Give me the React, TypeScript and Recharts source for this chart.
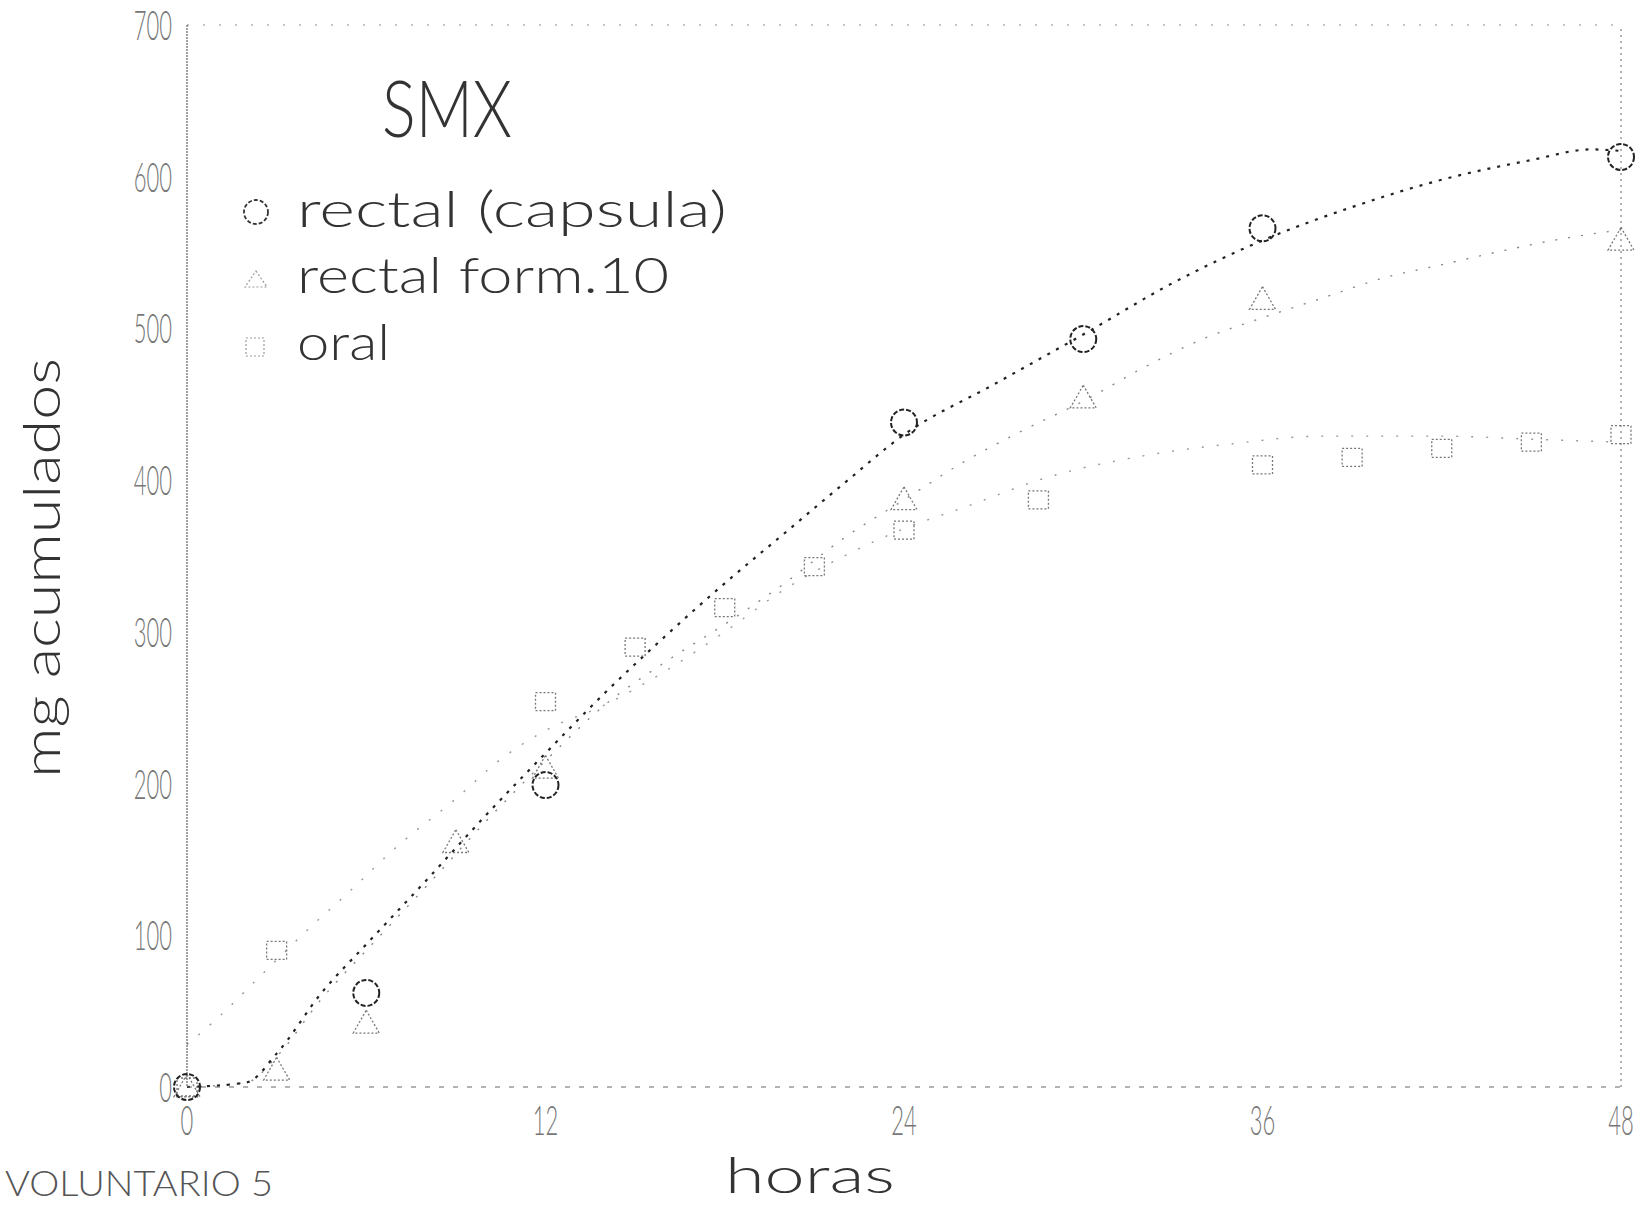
import React from "react";
import { ComposedChart, Line, Scatter, XAxis, YAxis, ReferenceLine } from "recharts";

// measured points (hours, mg accumulated)
const capsHours = [0, 6, 12, 24, 30, 36, 48];
const capsMg = [0, 62, 199, 438, 493, 566, 613];

const form10Hours = [0, 3, 6, 9, 12, 24, 30, 36, 48];
const form10Mg = [0, 11, 42, 161, 210, 387, 454, 519, 558];

const oralHours = [0, 3, 12, 15, 18, 21, 24, 28.5, 36, 39, 42, 45, 48];
const oralMg = [0, 90, 254, 290, 316, 343, 367, 387, 410, 415, 421, 425, 430];

// fitted curves
const capsFitHours = [0, 2, 3, 4.5, 6, 8, 10, 12, 14, 16, 18, 20, 22, 24, 27, 30, 33, 36, 39, 42, 45, 47, 48];
const capsFitMg = [0, 3, 22, 62, 94, 136, 179, 220, 260, 297, 332, 365, 398, 430, 463, 496, 530, 558, 580, 598, 611, 618, 617];

const form10FitHours = [0, 2, 3, 4.5, 6, 8, 10, 12, 14, 16, 18, 20, 22, 24, 26, 28, 30, 32, 34, 36, 38, 40, 42, 44, 46, 48];
const form10FitMg = [0, 3, 20, 58, 90, 132, 175, 215, 252, 280, 305, 332, 362, 387, 412, 433, 452, 474, 493, 507, 520, 533, 542, 551, 559, 565];

const oralFitHours = [0, 1, 2.5, 4, 5.5, 7, 9, 10.5, 12, 14, 16, 18, 20, 22, 24, 26, 29, 32, 35, 38, 42, 45, 48];
const oralFitMg = [28, 45, 74, 103, 130, 158, 190, 216, 235, 252, 274, 300, 328, 350, 368, 382, 403, 416, 424, 429, 429, 427, 425];

const xTicks = [0, 12, 24, 36, 48];
const yTicks = [0, 100, 200, 300, 400, 500, 600, 700];

const toPts = (hs: number[], ms: number[]) => hs.map((h, i) => ({ h, mg: ms[i] }));

const caps = toPts(capsHours, capsMg);
const form10 = toPts(form10Hours, form10Mg);
const oral = toPts(oralHours, oralMg);
const capsFit = toPts(capsFitHours, capsFitMg);
const form10Fit = toPts(form10FitHours, form10FitMg);
const oralFit = toPts(oralFitHours, oralFitMg);

const FONT = "Lato, 'DejaVu Sans', sans-serif";

const YTick = (props: any) => {
  const { x, y, payload } = props;
  return (
    <g transform={`translate(${x},${y})`}>
      <text transform="scale(1,1.9)" textAnchor="end" dy="0.36em" fontSize={22} fontWeight={300} fill="#777" fontFamily={FONT}>
        {payload.value}
      </text>
    </g>
  );
};

const XTick = (props: any) => {
  const { x, y, payload } = props;
  return (
    <g transform={`translate(${x},${y})`}>
      <text transform="scale(1,1.9)" textAnchor="middle" dy="0.72em" fontSize={22} fontWeight={300} fill="#777" fontFamily={FONT}>
        {payload.value}
      </text>
    </g>
  );
};

const CircleMark = (p: any) => (
  <circle cx={p.cx} cy={p.cy} r={13} fill="none" stroke="#222" strokeWidth={2} strokeDasharray="5 2" />
);

const TriMark = (p: any) => {
  const s = 13;
  const d = `M${p.cx},${p.cy - s} L${p.cx + s},${p.cy + s * 0.75} L${p.cx - s},${p.cy + s * 0.75} Z`;
  return <path d={d} fill="none" stroke="#777" strokeWidth={1.3} strokeDasharray="2 2" />;
};

const SquareMark = (p: any) => (
  <rect x={p.cx - 10} y={p.cy - 9} width={20} height={18} fill="none" stroke="#777" strokeWidth={1.3} strokeDasharray="2 2" />
);

export default function App() {
  return (
    <div style={{ position: "absolute", left: 0, top: 0, width: 1651, height: 1205, background: "#fff" }}>
      <ComposedChart width={1651} height={1205} margin={{ top: 25, right: 30, bottom: 0, left: 0 }}>
        <XAxis
          dataKey="h"
          type="number"
          domain={[0, 48]}
          ticks={xTicks}
          height={118}
          tickSize={0}
          tickMargin={18}
          tick={<XTick />}
          axisLine={{ stroke: "#666", strokeDasharray: "5 9" }}
        />
        <YAxis
          dataKey="mg"
          type="number"
          domain={[0, 700]}
          ticks={yTicks}
          width={187}
          tickSize={0}
          tickMargin={15}
          tick={<YTick />}
          axisLine={{ stroke: "#444", strokeDasharray: "2 1" }}
        />
        <ReferenceLine y={700} stroke="#888" strokeDasharray="2 14" />
        <ReferenceLine x={48} stroke="#666" strokeDasharray="2 4" />

        <Line data={oralFit} dataKey="mg" type="monotone" stroke="#999" strokeWidth={1.4} strokeDasharray="2 13" dot={false} activeDot={false} isAnimationActive={false} />
        <Line data={form10Fit} dataKey="mg" type="monotone" stroke="#888" strokeWidth={1.4} strokeDasharray="2 11" dot={false} activeDot={false} isAnimationActive={false} />
        <Line data={capsFit} dataKey="mg" type="monotone" stroke="#222" strokeWidth={2.2} strokeDasharray="3 7" dot={false} activeDot={false} isAnimationActive={false} />

        <Scatter data={oral} dataKey="mg" shape={SquareMark} isAnimationActive={false} />
        <Scatter data={form10} dataKey="mg" shape={TriMark} isAnimationActive={false} />
        <Scatter data={caps} dataKey="mg" shape={CircleMark} isAnimationActive={false} />
      </ComposedChart>

      <svg width={1651} height={1205} style={{ position: "absolute", left: 0, top: 0, pointerEvents: "none" }} fontFamily={FONT} fontWeight={300}>
        <text x={382} y={137} fontSize={78} fill="#333" textLength={130} lengthAdjust="spacingAndGlyphs">SMX</text>

        <circle cx={256} cy={212} r={12} fill="none" stroke="#333" strokeWidth={1.8} strokeDasharray="4 2" />
        <text x={297} y={227} fontSize={50} fill="#333" textLength={430} lengthAdjust="spacingAndGlyphs">rectal (capsula)</text>

        <path d="M256,271 L267,287 L245,287 Z" fill="none" stroke="#999" strokeWidth={1.2} strokeDasharray="2 2" />
        <text x={297} y={293} fontSize={50} fill="#333" textLength={372} lengthAdjust="spacingAndGlyphs">rectal  form.10</text>

        <rect x={246} y={338} width={18} height={18} fill="none" stroke="#999" strokeWidth={1.2} strokeDasharray="2 2" />
        <text x={297} y={360} fontSize={50} fill="#333" textLength={93} lengthAdjust="spacingAndGlyphs">oral</text>

        <text x={60} y={568} transform="rotate(-90 60 568)" textAnchor="middle" fontSize={52} fill="#333" textLength={420} lengthAdjust="spacingAndGlyphs">mg acumulados</text>

        <text x={725} y={1193} fontSize={50} fill="#333" textLength={170} lengthAdjust="spacingAndGlyphs">horas</text>

        <text x={5} y={1196} fontSize={36} fill="#555" textLength={268} lengthAdjust="spacingAndGlyphs">VOLUNTARIO 5</text>
      </svg>
    </div>
  );
}
